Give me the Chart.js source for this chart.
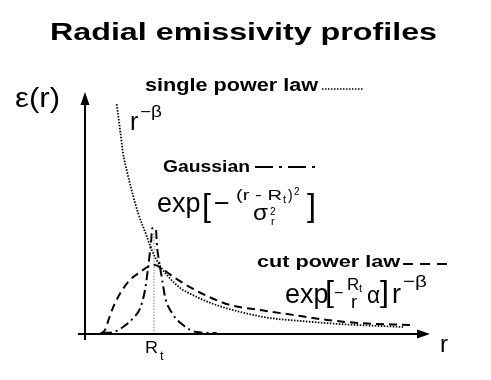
<!DOCTYPE html>
<html>
<head>
<meta charset="utf-8">
<script src="https://cdn.jsdelivr.net/npm/chart.js@4"></script>
<style>
  body { margin: 0; background: #fff; }
  #wrap { width: 491px; height: 380px; }
</style>
</head>
<body>
<div id="wrap"><canvas id="myChart"></canvas></div>
<script>
// r in units of R_t, emissivity in arbitrary units
const rt = 1;
const xMax = 5, yMax = 10;

const powerR   = [0.46, 0.51, 0.55, 0.61, 0.68, 0.77, 0.90, 0.97, 1.09, 1.23, 1.38, 1.59, 1.86, 2.25, 2.68, 3.12, 3.70, 4.61];
const powerEps = [9.5, 8.4, 7.5, 6.7, 5.9, 5.0, 4.0, 3.45, 2.8, 2.3, 1.9, 1.57, 1.24, 0.91, 0.66, 0.54, 0.41, 0.29];

const cutR   = [0.22, 0.29, 0.35, 0.41, 0.48, 0.54, 0.65, 0.80, 0.91, 1.01, 1.12, 1.28, 1.52, 1.77, 2.10, 2.54, 3.01, 3.51, 3.99, 4.71];
const cutEps = [0.0, 0.17, 0.66, 1.12, 1.53, 1.82, 2.23, 2.56, 2.77, 2.85, 2.69, 2.36, 1.94, 1.57, 1.20, 0.99, 0.79, 0.58, 0.45, 0.37];

const gaussR   = [0.26, 0.41, 0.55, 0.70, 0.80, 0.87, 0.91, 0.94, 0.96, 0.97, 1.00, 1.03, 1.04, 1.07, 1.12, 1.16, 1.26, 1.42, 1.62, 1.91];
const gaussEps = [0.04, 0.08, 0.29, 0.66, 1.07, 1.82, 2.64, 3.35, 3.88, 4.34, 4.38, 4.30, 3.76, 3.06, 2.23, 1.53, 0.87, 0.37, 0.08, 0.04];

const rtMarkEps = [0, 4.2];

const zip = (xs, ys) => xs.map((x, i) => ({ x: x, y: ys[i] }));
const FONT = '"Liberation Sans", Arial, Helvetica, sans-serif';

function txt(ctx, s, x, y, size, bold, w) {
  ctx.save();
  ctx.font = (bold ? 'bold ' : '') + size + 'px ' + FONT;
  ctx.textBaseline = 'alphabetic';
  ctx.textAlign = 'left';
  ctx.fillStyle = '#000';
  const m = ctx.measureText(s).width;
  ctx.translate(x, y);
  if (w) ctx.scale(w / m, 1);
  ctx.fillText(s, 0, 0);
  ctx.restore();
}

function sample(ctx, x1, x2, y, dash, lw) {
  ctx.save();
  ctx.strokeStyle = '#000';
  ctx.lineWidth = lw;
  ctx.setLineDash(dash);
  ctx.beginPath();
  ctx.moveTo(x1, y);
  ctx.lineTo(x2, y);
  ctx.stroke();
  ctx.restore();
}

const decor = {
  id: 'decor',
  afterDatasetsDraw(chart) {
    const ctx = chart.ctx;
    const xs = chart.scales.x, ys = chart.scales.y;
    const x0 = xs.getPixelForValue(0), y0 = ys.getPixelForValue(0);
    const xt = xs.getPixelForValue(xMax), yt = ys.getPixelForValue(yMax);

    // axes with arrows
    ctx.save();
    ctx.strokeStyle = '#000';
    ctx.fillStyle = '#000';
    ctx.lineWidth = 2;
    ctx.beginPath();
    ctx.moveTo(x0 - 7, y0); ctx.lineTo(xt - 8, y0);
    ctx.moveTo(x0, y0 + 6); ctx.lineTo(x0, yt + 8);
    ctx.stroke();
    ctx.beginPath();
    ctx.moveTo(xt, y0); ctx.lineTo(xt - 13, y0 - 4.5); ctx.lineTo(xt - 13, y0 + 4.5); ctx.closePath();
    ctx.moveTo(x0, yt); ctx.lineTo(x0 - 4.5, yt + 13); ctx.lineTo(x0 + 4.5, yt + 13); ctx.closePath();
    ctx.fill();
    ctx.restore();

    // title
    txt(ctx, 'Radial emissivity profiles', 50, 40, 23, true, 387);

    // axis labels
    txt(ctx, 'ε(r)', 15, 107, 27, false, 45);
    txt(ctx, 'r', 440, 352, 24, false);
    const rx = xs.getPixelForValue(rt);
    txt(ctx, 'R', rx - 9, 353, 17, false, 13);
    txt(ctx, 't', rx + 6, 360, 13, false);

    // single power law
    txt(ctx, 'single power law', 145, 91, 18, true, 173);
    sample(ctx, 322, 364, 89, [1.5, 1.5], 1.4);
    txt(ctx, 'r', 130, 130, 25, false);
    txt(ctx, '−β', 140, 117, 16, false, 22);

    // Gaussian
    txt(ctx, 'Gaussian', 163, 172, 16, true, 87);
    sample(ctx, 255, 320, 167, [18, 6, 3, 6], 2);
    txt(ctx, 'exp', 157, 212, 27, false);
    txt(ctx, '[', 202, 216, 31, false, 9);
    txt(ctx, '−', 214, 212, 27, false);
    txt(ctx, '(r - R', 236, 200, 14, false, 46);
    txt(ctx, 't', 283, 203, 11, false);
    txt(ctx, ')', 288, 200, 14, false);
    txt(ctx, '2', 294, 195, 10, false);
    txt(ctx, 'σ', 253, 220, 22, false, 15);
    txt(ctx, '2', 270, 215, 10, false);
    txt(ctx, 'r', 271, 225, 11, false);
    txt(ctx, ']', 307, 216, 31, false, 9);

    // cut power law
    txt(ctx, 'cut power law', 257, 267, 17, true, 143);
    sample(ctx, 403, 450, 264, [10, 7], 2);
    txt(ctx, 'exp', 285, 303, 27, false);
    txt(ctx, '[', 325, 302, 29, false, 9);
    txt(ctx, '−', 334, 298, 16, false);
    txt(ctx, 'R', 347, 290, 17, false);
    txt(ctx, 't', 359, 292, 11, false);
    txt(ctx, 'r', 351, 308, 19, false);
    txt(ctx, 'α', 367, 303, 24, false, 13);
    txt(ctx, ']', 380, 302, 29, false, 9);
    txt(ctx, 'r', 392, 303, 27, false);
    txt(ctx, '−β', 403, 287, 17, false, 24);
  }
};

const rdx = document.getElementById('myChart').getContext('2d');
const myChart = new Chart(rdx, {
  type: 'line',
  data: {
    datasets: [
      {
        label: 'single power law',
        data: zip(powerR, powerEps),
        borderColor: '#000',
        borderWidth: 1.8,
        borderDash: [1.5, 1.5],
        cubicInterpolationMode: 'monotone'
      },
      {
        label: 'cut power law',
        data: zip(cutR, cutEps),
        borderColor: '#000',
        borderWidth: 2,
        borderDash: [8, 5],
        cubicInterpolationMode: 'monotone'
      },
      {
        label: 'Gaussian',
        data: zip(gaussR, gaussEps),
        borderColor: '#000',
        borderWidth: 2,
        borderDash: [9, 4, 2, 4],
        cubicInterpolationMode: 'monotone'
      },
      {
        label: 'R_t',
        data: zip([rt, rt], rtMarkEps),
        borderColor: '#999',
        borderWidth: 1.2,
        borderDash: [1.5, 1.5]
      }
    ]
  },
  options: {
    responsive: true,
    maintainAspectRatio: false,
    animation: false,
    elements: { point: { radius: 0 } },
    datasets: { line: { clip: false } },
    layout: { padding: { left: 85, right: 61, top: 92, bottom: 46 } },
    scales: {
      x: { type: 'linear', min: 0, max: xMax, display: false },
      y: { type: 'linear', min: 0, max: yMax, display: false }
    },
    plugins: {
      legend: { display: false },
      tooltip: { enabled: false }
    }
  },
  plugins: [decor]
});
</script>
</body>
</html>
